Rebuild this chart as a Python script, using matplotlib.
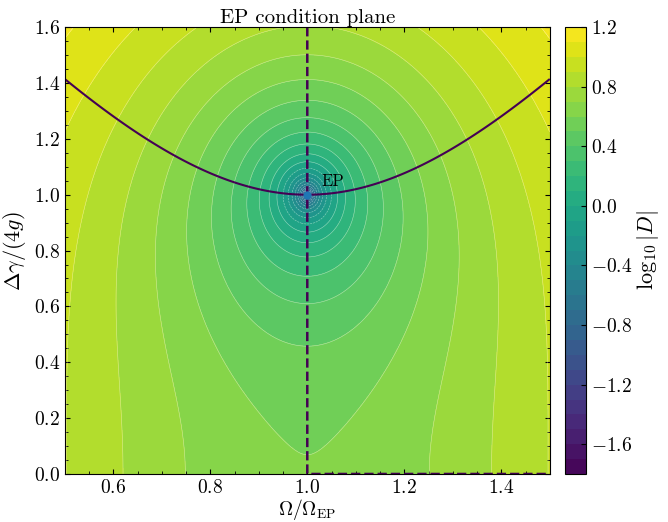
import numpy as np
import matplotlib
matplotlib.use("Agg")
import matplotlib.pyplot as plt

plt.rcParams["font.family"] = "serif"
plt.rcParams["font.serif"] = ["cmr10"]
plt.rcParams["mathtext.fontset"] = "cm"
plt.rcParams["axes.formatter.use_mathtext"] = True
plt.rcParams["font.size"] = 13
plt.rcParams["xtick.labelsize"] = 14
plt.rcParams["ytick.labelsize"] = 14
plt.rcParams["xtick.direction"] = "in"
plt.rcParams["ytick.direction"] = "in"
plt.rcParams["xtick.top"] = True
plt.rcParams["ytick.right"] = True
plt.rcParams["xtick.minor.visible"] = True
plt.rcParams["ytick.minor.visible"] = True

# parameter plane
omega_range = [0.5, 1.5]      # Omega / Omega_EP
gamma_range = [0.0, 1.6]      # Delta gamma / (4g)
n_grid = 500
ep_point = [1.0, 1.0]
detuning_scale = 2.0
prefactor = 4.0

x = np.linspace(omega_range[0], omega_range[1], n_grid)
y = np.linspace(gamma_range[0], gamma_range[1], n_grid)
X, Y = np.meshgrid(x, y)

# discriminant of the 2x2 non-Hermitian Hamiltonian
u = detuning_scale * (X - ep_point[0])
D = prefactor * ((u + 1j * Y) ** 2 + 1)
logD = np.log10(np.abs(D))

levels = np.arange(-1.8, 1.21, 0.1)

fig = plt.figure(figsize=(6.68, 5.22), dpi=100)
ax = fig.add_axes([0.097, 0.092, 0.726, 0.856])
cax = fig.add_axes([0.846, 0.092, 0.031, 0.856])

cf = ax.contourf(X, Y, logD, levels=levels, cmap="viridis")
ax.contour(X, Y, logD, levels=levels, colors="white", linewidths=0.4, alpha=0.5)

# Re D = 0 (solid) and Im D = 0 (dashed)
ax.contour(X, Y, D.real, levels=[0], colors="#440154", linewidths=1.5)
ax.contour(X, Y, D.imag, levels=[0], colors="#440154", linewidths=1.8, linestyles="--")

ax.plot(ep_point[0], ep_point[1], "o", color="tab:blue", markersize=5)
ax.annotate("EP", xy=(ep_point[0], ep_point[1]), xytext=(ep_point[0] + 0.03, ep_point[1] + 0.03),
            fontsize=12)

ax.set_xlim(omega_range)
ax.set_ylim(gamma_range)
ax.set_xlabel(r"$\Omega/\Omega_{\rm EP}$", fontsize=14, labelpad=0)
ax.set_ylabel(r"$\Delta\gamma/(4g)$", fontsize=16)
ax.set_title("EP condition plane", fontsize=15, pad=3)

cb = fig.colorbar(cf, cax=cax)
cb.set_ticks(np.arange(-1.6, 1.21, 0.4))
cb.set_label(r"$\log_{10}|D|$", fontsize=16, labelpad=2)
cb.ax.minorticks_off()

fig.savefig("out.png", dpi=100)
